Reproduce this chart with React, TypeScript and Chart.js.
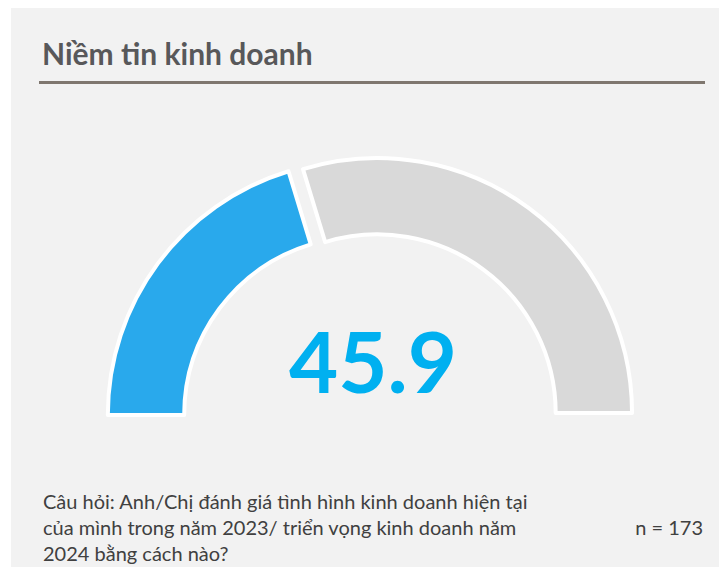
import React, { useEffect, useRef } from "react";
import { Chart, registerables } from "chart.js";

Chart.register(...registerables);

const titleText = "Niềm tin kinh doanh";
const gaugeLabels = ["Niềm tin", "Còn lại"];
const gaugeSegments = [40.6, 59.4];
const gaugeColors = ["#29a9ec", "#d9d9d9"];
const gaugeValueText = "45.9";
const questionLines = [
  "Câu hỏi: Anh/Chị đánh giá tình hình kinh doanh hiện tại",
  "của mình trong năm 2023/ triển vọng kinh doanh năm",
  "2024 bằng cách nào?",
];
const sampleText = "n = 173";

export default function App() {
  const canvasRef = useRef<HTMLCanvasElement | null>(null);

  useEffect(() => {
    document.body.style.margin = "0";
    const canvas = canvasRef.current;
    if (!canvas) return;
    const chart = new Chart(canvas, {
      type: "doughnut",
      data: {
        labels: gaugeLabels,
        datasets: [
          {
            data: gaugeSegments,
            backgroundColor: gaugeColors,
            borderColor: "#ffffff",
            borderWidth: 4,
            borderJoinStyle: "round",
            offset: 41,
            hoverOffset: 41,
          } as any,
        ],
      },
      options: {
        animation: false,
        responsive: false,
        maintainAspectRatio: false,
        circumference: 180,
        rotation: -90,
        cutout: "70%",
        radius: 254.5,
        layout: { padding: 0 },
        plugins: {
          legend: { display: false },
          tooltip: { enabled: false },
          title: { display: false },
        },
        events: [],
      } as any,
    });
    return () => chart.destroy();
  }, []);

  return (
    <div
      style={{
        position: "absolute",
        left: 0,
        top: 0,
        width: 725,
        height: 567,
        background: "#ffffff",
        overflow: "hidden",
      }}
    >
      <div
        style={{
          position: "absolute",
          left: 11,
          top: 8,
          width: 708,
          height: 559,
          background: "#f2f2f2",
        }}
      />
      <div
        style={{
          position: "absolute",
          left: 42,
          top: 38,
          font: "bold 30px Lato, sans-serif",
          lineHeight: "30px",
          color: "#58585a",
          whiteSpace: "nowrap",
        }}
      >
        {titleText}
      </div>
      <div
        style={{
          position: "absolute",
          left: 39,
          top: 81,
          width: 666,
          height: 3,
          background: "#7f776f",
        }}
      />
      <canvas
        ref={canvasRef}
        width={600}
        height={300}
        style={{ position: "absolute", left: 71, top: 144, width: 600, height: 300 }}
      />
      <div
        style={{
          position: "absolute",
          left: 173,
          width: 400,
          top: 318,
          textAlign: "center",
          font: "bold 85px Lato, sans-serif",
          lineHeight: "85px",
          color: "#00b0f0",
          whiteSpace: "nowrap",
        }}
      >
        {gaugeValueText}
      </div>
      <div
        style={{
          position: "absolute",
          left: 43,
          top: 488,
          font: "20px Lato, sans-serif",
          lineHeight: "26px",
          color: "#404040",
          whiteSpace: "nowrap",
        }}
      >
        {questionLines.map((l, i) => (
          <div key={i}>{l}</div>
        ))}
      </div>
      <div
        style={{
          position: "absolute",
          right: 22,
          top: 514,
          font: "20px Lato, sans-serif",
          lineHeight: "26px",
          color: "#404040",
          whiteSpace: "nowrap",
        }}
      >
        {sampleText}
      </div>
    </div>
  );
}
